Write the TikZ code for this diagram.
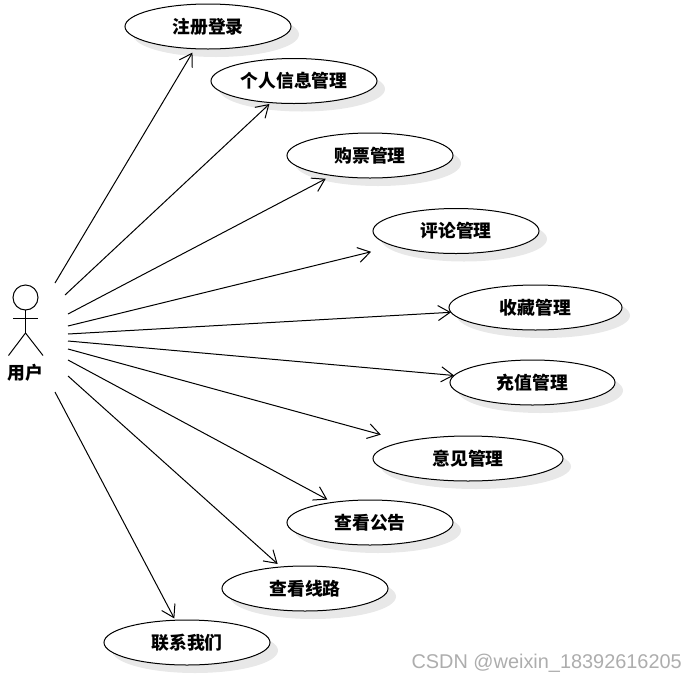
\documentclass[tikz,border=0pt]{standalone}
\usepackage{fontspec}
\usepackage{tikz}
\usetikzlibrary{shapes.geometric,shadows,arrows.meta}

\newfontfamily\cjk{Noto Sans CJK SC}
\newfontfamily\markfont{Liberation Sans}

\tikzset{
  usecase/.style={ellipse, draw=black, line width=1pt, fill=white, inner sep=0pt, outer sep=0pt,
    minimum height=45pt, font=\cjk\bfseries\fontsize{17.8}{18}\selectfont,
    drop shadow={shadow xshift=8pt, shadow yshift=-8pt, opacity=0.09, fill=black}},
  usearrow/.style={line width=1pt, -{Straight Barb[length=12pt,width=15pt,line width=1pt]}},
  actorline/.style={line width=1pt}
}

\begin{document}
\begin{tikzpicture}[x=1pt,y=-1pt]

\definecolor{mywater}{rgb}{0.68, 0.68, 0.68}

\useasboundingbox (0,0) rectangle (697,681);

% actor
\draw[actorline] (25.5,297.5) circle (12.5);
\draw[actorline] (25.5,310) -- (25.5,333);
\draw[actorline] (13,318) -- (38,318);
\draw[actorline] (8.5,355.5) -- (25.5,333) -- (43,355.5);
\node[font=\cjk\bfseries\fontsize{17.8}{18}\selectfont] (user) at (25.5,373) {用户};

% use cases
\node[usecase, minimum width=166pt] (u1) at (208,26.5) {注册登录};
\node[usecase, minimum width=166pt] (u2) at (294,81) {个人信息管理};
\node[usecase, minimum width=166pt] (u3) at (370,155.5) {购票管理};
\node[usecase, minimum width=166pt] (u4) at (456,231) {评论管理};
\node[usecase, minimum width=173pt] (u5) at (535.5,307.5) {收藏管理};
\node[usecase, minimum width=165pt] (u6) at (532.5,382.5) {充值管理};
\node[usecase, minimum width=190pt] (u7) at (468,458.5) {意见管理};
\node[usecase, minimum width=166pt] (u8) at (370,522.5) {查看公告};
\node[usecase, minimum width=166pt] (u9) at (305,588.5) {查看线路};
\node[usecase, minimum width=166pt] (u10) at (187,642.5) {联系我们};

% free ends near the actor
\coordinate (s1) at (55,283);
\coordinate (s2) at (65,295);
\coordinate (s3) at (68,314);
\coordinate (s4) at (68,326);
\coordinate (s5) at (68,334);
\coordinate (s6) at (68,341);
\coordinate (s7) at (68,349);
\coordinate (s8) at (68,360);
\coordinate (s9) at (68,376);
\coordinate (s10) at (55,392);

% arrows stop a little short of the ellipse
\foreach \i/\gap in {1/4.5,2/2,3/7,4/24,5/0,6/0,7/26,8/6,9/4.5,10/2} {
  \draw[usearrow, shorten >=\gap pt] (s\i) -- (u\i);
}

\node[mywater, inner sep=0pt, font=\markfont\fontsize{19.9}{20}\selectfont, anchor=east] (mark) at (682,663) {CSDN @weixin\_18392616205};

\end{tikzpicture}
\end{document}
